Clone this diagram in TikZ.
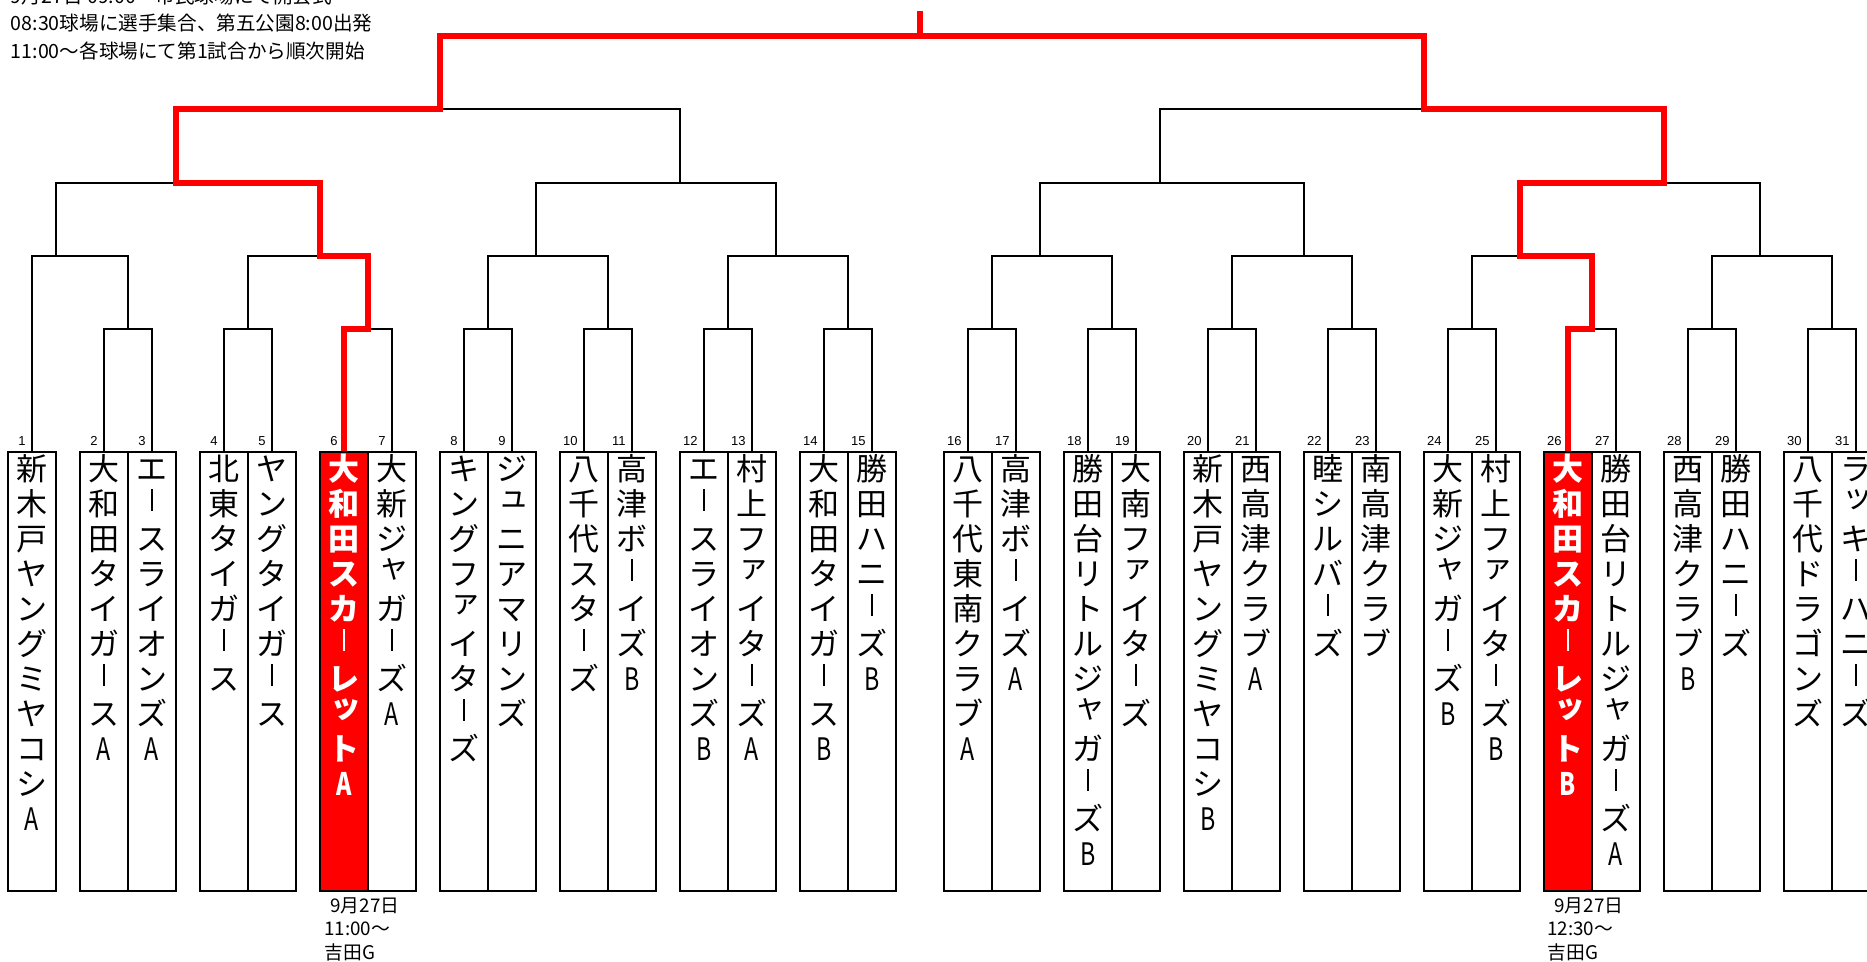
\documentclass[tikz,border=0pt]{standalone}
\usepackage{fontspec}
\usepackage{graphicx}
\setmainfont{Liberation Sans}
\newfontfamily\jp{Noto Sans CJK JP}
\newfontfamily\lsans{Liberation Sans}
\ExplSyntaxOn
\cs_new_protected:Npn \vt_small:n #1 { \raisebox{0.25em}{ \kern 0.12em #1 } }
\cs_new_protected:Npn \vt_cell:n #1
  {
    \hbox_to_wd:nn { 24pt }
      {
        \hss
        \str_case:nnF {#1}
          {
            {ー}{ \vrule width 0.085em height 0.86em depth -0.14em \relax }
            {ァ}{ \vt_small:n {#1} }
            {ィ}{ \vt_small:n {#1} }
            {ゥ}{ \vt_small:n {#1} }
            {ェ}{ \vt_small:n {#1} }
            {ォ}{ \vt_small:n {#1} }
            {ッ}{ \vt_small:n {#1} }
            {ャ}{ \vt_small:n {#1} }
            {ュ}{ \vt_small:n {#1} }
            {ョ}{ \vt_small:n {#1} }
            {A}{ \scalebox{0.75}[1]{A} }
            {B}{ \scalebox{0.75}[1]{B} }
          }
          { #1 }
        \hss
        \vrule height 0.88em depth 0.249em width 0pt \relax
      }
  }
\NewDocumentCommand \vt { m }
  { \vbox { \offinterlineskip \tl_map_function:nN {#1} \vt_cell:n } }
\ExplSyntaxOff
\tikzset{
  tbox/.style={draw=black, line width=1pt, fill=white, minimum width=24pt, minimum height=219.5pt, inner sep=0pt, anchor=north},
  rbox/.style={tbox, fill=red},
  tname/.style={inner sep=0pt, anchor=north, font=\jp\fontsize{15.5}{17}\selectfont},
  rname/.style={tname, text=white, font=\jp\bfseries\fontsize{15.5}{17}\selectfont},
  num/.style={inner sep=0pt, anchor=base east, font=\lsans\fontsize{6.5}{7}\selectfont},
  note/.style={inner sep=0pt, anchor=base west, font=\jp\fontsize{9.8}{11}\selectfont},
  bnote/.style={inner sep=0pt, anchor=base west, font=\jp\fontsize{9.4}{11}\selectfont},
  bline/.style={draw=black, line width=1pt},
  rline/.style={draw=red, line width=2.7pt},
}
\newcommand\team[3]{%
  \node[tbox] (t#1) at (#2,451) {};
  \node[tname] (n#1) at ([yshift=-0.75pt]t#1.north) {\vt{#3}};
  \node[num] (l#1) at (#2-6,445) {#1};
}
\newcommand\redteam[3]{%
  \node[rbox] (t#1) at (#2,451) {};
  \node[rname] (n#1) at ([yshift=-0.75pt]t#1.north) {\vt{#3}};
  \node[num] (l#1) at (#2-6,445) {#1};
}
\begin{document}
\begin{tikzpicture}[x=0.5pt, y=-0.5pt]
\clip (0,0) rectangle (1867,962);
\fill[white] (0,0) rectangle (1867,962);
% header
\node[note] (h1) at (10.5,3.5) {9月27日 09:00～市民球場にて開会式};
\node[note] (h2) at (10.5,31) {08:30球場に選手集合、第五公園8:00出発};
\node[note] (h3) at (10.5,58.5) {11:00～各球場にて第1試合から順次開始};
% teams
\team{1}{32}{新木戸ヤングミヤコシA}
\team{2}{104}{大和田タイガースA}
\team{3}{152}{エースライオンズA}
\team{4}{224}{北東タイガース}
\team{5}{272}{ヤングタイガース}
\redteam{6}{344}{大和田スカーレットA}
\team{7}{392}{大新ジャガーズA}
\team{8}{464}{キングファイターズ}
\team{9}{512}{ジュニアマリンズ}
\team{10}{584}{八千代スターズ}
\team{11}{632}{高津ボーイズB}
\team{12}{704}{エースライオンズB}
\team{13}{752}{村上ファイターズA}
\team{14}{824}{大和田タイガースB}
\team{15}{872}{勝田ハニーズB}
\team{16}{968}{八千代東南クラブA}
\team{17}{1016}{高津ボーイズA}
\team{18}{1088}{勝田台リトルジャガーズB}
\team{19}{1136}{大南ファイターズ}
\team{20}{1208}{新木戸ヤングミヤコシB}
\team{21}{1256}{西高津クラブA}
\team{22}{1328}{睦シルバーズ}
\team{23}{1376}{南高津クラブ}
\team{24}{1448}{大新ジャガーズB}
\team{25}{1496}{村上ファイターズB}
\redteam{26}{1568}{大和田スカーレットB}
\team{27}{1616}{勝田台リトルジャガーズA}
\team{28}{1688}{西高津クラブB}
\team{29}{1736}{勝田ハニーズ}
\team{30}{1808}{八千代ドラゴンズ}
\team{31}{1856}{ラッキーハニーズ}
% match junctions
\coordinate (m23) at (128,329);
\coordinate (m45) at (248,329);
\coordinate (m67) at (368,329);
\coordinate (m89) at (488,329);
\coordinate (m1011) at (608,329);
\coordinate (m1213) at (728,329);
\coordinate (m1415) at (848,329);
\coordinate (m1617) at (992,329);
\coordinate (m1819) at (1112,329);
\coordinate (m2021) at (1232,329);
\coordinate (m2223) at (1352,329);
\coordinate (m2425) at (1472,329);
\coordinate (m2627) at (1592,329);
\coordinate (m2829) at (1712,329);
\coordinate (m3031) at (1832,329);
\coordinate (q1) at (56,256);
\coordinate (q2) at (320,256);
\coordinate (q3) at (536,256);
\coordinate (q4) at (776,256);
\coordinate (q5) at (1040,256);
\coordinate (q6) at (1304,256);
\coordinate (q7) at (1520,256);
\coordinate (q8) at (1760,256);
\coordinate (r1) at (176,183);
\coordinate (r2) at (680,183);
\coordinate (r3) at (1160,183);
\coordinate (r4) at (1664,183);
\coordinate (s1) at (440,109);
\coordinate (s2) at (1424,109);
\coordinate (f) at (920,36);
\coordinate (champ) at (920,11);
% round 1
\draw[bline] (t2.north) |- (m23) -| (t3.north);
\draw[bline] (t4.north) |- (m45) -| (t5.north);
\draw[bline] (t6.north) |- (m67) -| (t7.north);
\draw[bline] (t8.north) |- (m89) -| (t9.north);
\draw[bline] (t10.north) |- (m1011) -| (t11.north);
\draw[bline] (t12.north) |- (m1213) -| (t13.north);
\draw[bline] (t14.north) |- (m1415) -| (t15.north);
\draw[bline] (t16.north) |- (m1617) -| (t17.north);
\draw[bline] (t18.north) |- (m1819) -| (t19.north);
\draw[bline] (t20.north) |- (m2021) -| (t21.north);
\draw[bline] (t22.north) |- (m2223) -| (t23.north);
\draw[bline] (t24.north) |- (m2425) -| (t25.north);
\draw[bline] (t26.north) |- (m2627) -| (t27.north);
\draw[bline] (t28.north) |- (m2829) -| (t29.north);
\draw[bline] (t30.north) |- (m3031) -| (t31.north);
% round 2
\draw[bline] (t1.north) |- (q1) -| (m23);
\draw[bline] (m45) |- (q2) -| (m67);
\draw[bline] (m89) |- (q3) -| (m1011);
\draw[bline] (m1213) |- (q4) -| (m1415);
\draw[bline] (m1617) |- (q5) -| (m1819);
\draw[bline] (m2021) |- (q6) -| (m2223);
\draw[bline] (m2425) |- (q7) -| (m2627);
\draw[bline] (m2829) |- (q8) -| (m3031);
% round 3
\draw[bline] (q1) |- (r1) -| (q2);
\draw[bline] (q3) |- (r2) -| (q4);
\draw[bline] (q5) |- (r3) -| (q6);
\draw[bline] (q7) |- (r4) -| (q8);
% round 4
\draw[bline] (r1) |- (s1) -| (r2);
\draw[bline] (r3) |- (s2) -| (r4);
% final
\draw[bline] (s1) |- (f) -| (s2);
% winners' path
\draw[rline] (t6.north) |- (m67) |- (q2) |- (r1) |- (s1) |- (f) -| (s2) -| (r4) -| (q7) -| (m2627) -| (t26.north);
\draw[rline] (f) -- (champ);
% notes below
\node[bnote] (d1) at (330,912) {9月27日};
\node[bnote] (d2) at (324,935.5) {11:00～};
\node[bnote] (d3) at (324,959) {吉田G};
\node[bnote] (e1) at (1554,912) {9月27日};
\node[bnote] (e2) at (1547,935.5) {12:30～};
\node[bnote] (e3) at (1547,959) {吉田G};
\end{tikzpicture}
\end{document}
